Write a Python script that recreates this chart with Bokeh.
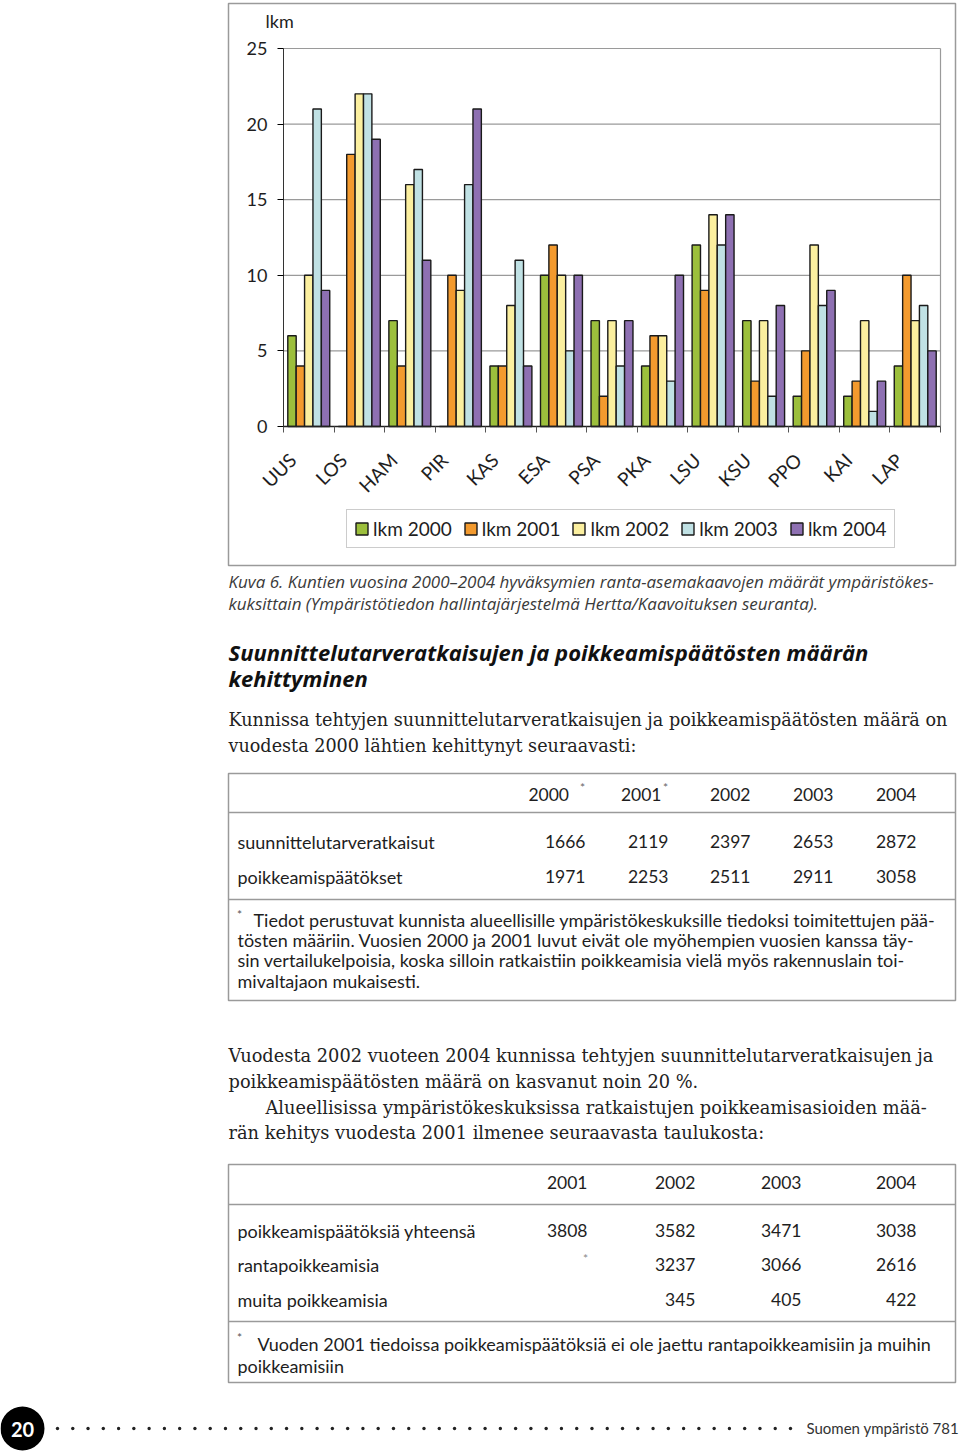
import numpy as np
from bokeh.plotting import figure
from bokeh.models import (ColumnDataSource, Range1d, FixedTicker, Legend, LegendItem,
                          LinearAxis)
from bokeh.transform import dodge
from bokeh.embed import file_html
from bokeh.resources import INLINE
from bokeh.core.properties import value

# ---------------- data ----------------
regions = ["UUS", "LOS", "HAM", "PIR", "KAS", "ESA", "PSA", "PKA", "LSU", "KSU", "PPO", "KAI", "LAP"]
lkm_2000 = [6, 0, 7, 0, 4, 10, 7, 4, 12, 7, 2, 2, 4]
lkm_2001 = [4, 18, 4, 10, 4, 12, 2, 6, 9, 3, 5, 3, 10]
lkm_2002 = [10, 22, 16, 9, 8, 10, 7, 6, 14, 7, 12, 7, 7]
lkm_2003 = [21, 22, 17, 16, 11, 5, 4, 3, 12, 2, 8, 1, 8]
lkm_2004 = [9, 19, 11, 21, 4, 10, 7, 10, 14, 8, 9, 3, 5]
series_names = ["lkm 2000", "lkm 2001", "lkm 2002", "lkm 2003", "lkm 2004"]
series_colors = ["#9cbf3c", "#f39a2e", "#fbef9f", "#c0e1e4", "#8e70b2"]
y_ticks = [0, 5, 10, 15, 20, 25]

t1_years = ["2000 ", "2001", "2002", "2003", "2004"]
t1_stars = ["*", "*"]
t1_rows = ["suunnittelutarveratkaisut", "poikkeamispäätökset"]
t1_suunnittelu = [1666, 2119, 2397, 2653, 2872]
t1_poikkeamis = [1971, 2253, 2511, 2911, 3058]

t2_years = ["2001", "2002", "2003", "2004"]
t2_rows = ["poikkeamispäätöksiä yhteensä", "rantapoikkeamisia", "muita poikkeamisia"]
t2_yhteensa = [3808, 3582, 3471, 3038]
t2_ranta = [None, 3237, 3066, 2616]
t2_muita = [None, 345, 405, 422]

SANS = "Lato"
SERIF = "DejaVu Serif"
INK = "#1e1e1e"
RULE = "#9a9a9a"

W, H = 960, 1454

# chart plot area in canvas pixels (top-left origin)
FL, FR, FT, FB = 283, 940, 48, 426
n = len(regions)
ux = (FR - FL) / n
cx_start = -0.5 - FL / ux
cx_end = n - 0.5 + (W - FR) / ux
uy = (FB - FT) / 25.0
cy_start = -(H - FB) / uy
cy_end = 25 + FT / uy

p = figure(width=W, height=H, x_range=Range1d(0, W), y_range=Range1d(H, 0),
           output_backend="svg", toolbar_location=None, min_border=0)
p.extra_x_ranges = {"cx": Range1d(cx_start, cx_end)}
p.extra_y_ranges = {"cy": Range1d(cy_start, cy_end)}
p.axis.visible = False
p.grid.visible = False
p.outline_line_color = None
p.background_fill_color = "white"
p.border_fill_color = "white"

# ---- chart ----
p.quad(left=228, right=955, top=3, bottom=565, fill_alpha=0,
       line_color=RULE, line_width=1.5)

p.segment(x0=-0.5, x1=n - 0.5, y0=y_ticks[1:], y1=y_ticks[1:], x_range_name="cx",
          y_range_name="cy", line_color=RULE, line_width=1.2)
p.segment(x0=[n - 0.5], x1=[n - 0.5], y0=[0], y1=[25], x_range_name="cx",
          y_range_name="cy", line_color=RULE, line_width=1.2)

src = ColumnDataSource(dict(xi=list(range(n)), a=lkm_2000, b=lkm_2001, c=lkm_2002,
                            d=lkm_2003, e=lkm_2004))
bw = 0.166
items = []
for i, (col, name, colr) in enumerate(zip(["a", "b", "c", "d", "e"], series_names, series_colors)):
    r = p.vbar(x=dodge("xi", (i - 2) * bw), top=col, width=bw, source=src,
               x_range_name="cx", y_range_name="cy",
               fill_color=colr, line_color="#1a1a1a", line_width=1.4)
    items.append(LegendItem(label=name, renderers=[r]))

yax = LinearAxis(x_range_name="cx", y_range_name="cy", fixed_location=-0.5,
                 ticker=FixedTicker(ticks=y_ticks), bounds=(0, 25))
yax.major_label_text_font = SANS
yax.major_label_text_font_size = "18px"
yax.major_label_text_color = INK
yax.axis_line_color = "#333"
yax.major_tick_out = 6
yax.major_tick_in = 0
yax.minor_tick_line_color = None
yax.major_label_standoff = 10
p.add_layout(yax, "left")

xtick = LinearAxis(x_range_name="cx", y_range_name="cy", fixed_location=0,
                   ticker=FixedTicker(ticks=[k - 0.5 for k in range(n + 1)]),
                   bounds=(-0.5, n - 0.5))
xtick.major_label_text_font_size = "0px"
xtick.major_label_text_alpha = 0
xtick.axis_line_color = "#222"
xtick.axis_line_width = 1.3
xtick.major_tick_out = 6
xtick.major_tick_in = 0
xtick.minor_tick_line_color = None
xtick.major_tick_line_color = "#555"
p.add_layout(xtick, "below")

lab_pos = [k - 0.32 for k in range(n)]
xax = LinearAxis(x_range_name="cx", y_range_name="cy", fixed_location=0,
                 ticker=FixedTicker(ticks=lab_pos), bounds=(-0.5, n - 0.5),
                 major_label_overrides={pos: r for pos, r in zip(lab_pos, regions)})
xax.major_label_orientation = np.pi / 4
xax.major_label_text_font = SANS
xax.major_label_text_font_size = "19px"
xax.major_label_text_color = INK
xax.axis_line_color = None
xax.major_tick_line_color = None
xax.minor_tick_line_color = None
xax.major_tick_out = 0
xax.major_label_standoff = 30
p.add_layout(xax, "below")

legend = Legend(items=items, orientation="horizontal", location=(346, H - 548))
legend.margin = 0
legend.label_text_font = SANS
legend.label_text_font_size = "19px"
legend.label_text_color = INK
legend.glyph_width = 15
legend.glyph_height = 15
legend.label_standoff = 4
legend.spacing = 11
legend.padding = 7
legend.border_line_color = RULE
legend.border_line_width = 1.3
legend.background_fill_color = "white"
p.add_layout(legend)


# ---- page text ----
def txt(xs, ys, texts, size, font=SANS, style="normal", color=INK, align="left",
        baseline="middle"):
    s = ColumnDataSource(dict(x=xs, y=ys, t=texts))
    p.text(x="x", y="y", text="t", source=s, text_font=value(font),
           text_font_size=f"{size}px", text_font_style=style, text_color=color,
           text_align=align, text_baseline=baseline)


def box(l, r, t, b):
    p.quad(left=l, right=r, top=t, bottom=b, fill_alpha=0, line_color=RULE, line_width=1.5)


def hline(l, r, y):
    p.segment(x0=l, x1=r, y0=y, y1=y, line_color=RULE, line_width=1.5)


txt([265], [20], ["lkm"], 18)

# caption
txt([228, 228], [581, 603],
    ["Kuva 6. Kuntien vuosina 2000–2004 hyväksymien ranta-asemakaavojen määrät ympäristökes-",
     "kuksittain (Ympäristötiedon hallintajärjestelmä Hertta/Kaavoituksen seuranta)."],
    17, font="Open Sans", style="italic", color="#3a3a3a")

# heading
txt([228, 228], [651, 677],
    ["Suunnittelutarveratkaisujen ja poikkeamispäätösten määrän", "kehittyminen"],
    22, font="Open Sans", style="bold italic", color="#111")

# body 1
txt([228, 228], [719, 745],
    ["Kunnissa tehtyjen suunnittelutarveratkaisujen ja poikkeamispäätösten määrä on",
     "vuodesta 2000 lähtien kehittynyt seuraavasti:"], 17.6, font=SERIF, color="#222")

# table 1
box(228, 955, 773, 1000)
hline(228, 955, 812)
hline(228, 955, 899)
t1_right = [585, 668, 750, 833, 916]
hdr_right = [573, 661, 750, 833, 916]
txt(hdr_right, [794] * 5, t1_years, 17.5, align="right")
txt([582, 665], [787, 787], t1_stars, 12, color="#666", align="center")
txt([237, 237], [841, 876], t1_rows, 18)
txt(t1_right, [841] * 5, [str(v) for v in t1_suunnittelu], 17.5, align="right")
txt(t1_right, [876] * 5, [str(v) for v in t1_poikkeamis], 17.5, align="right")
txt([239], [914], ["*"], 12, color="#555", align="center")
txt([253, 237, 237, 237], [919, 939, 959, 980],
    ["Tiedot perustuvat kunnista alueellisille ympäristökeskuksille tiedoksi toimitettujen pää-",
     "tösten määriin. Vuosien  2000 ja 2001 luvut eivät ole myöhempien vuosien kanssa täy-",
     "sin vertailukelpoisia, koska silloin  ratkaistiin poikkeamisia vielä myös rakennuslain toi-",
     "mivaltajaon mukaisesti."], 18)

# body 2
txt([228, 228, 265, 228], [1055, 1081, 1107, 1132],
    ["Vuodesta 2002 vuoteen 2004 kunnissa tehtyjen suunnittelutarveratkaisujen ja",
     "poikkeamispäätösten määrä on kasvanut noin 20 %.",
     "Alueellisissa ympäristökeskuksissa ratkaistujen poikkeamisasioiden mää-",
     "rän kehitys vuodesta 2001 ilmenee seuraavasta taulukosta:"], 17.8, font=SERIF,
    color="#222")

# table 2
box(228, 955, 1164, 1382)
hline(228, 955, 1204)
hline(228, 955, 1321)
t2_right = [587, 695, 801, 916]
txt(t2_right, [1182] * 4, t2_years, 17.5, align="right")
txt([237, 237, 237], [1230, 1264, 1299], t2_rows, 18)
txt(t2_right, [1230] * 4, [str(v) for v in t2_yhteensa], 17.5, align="right")
txt(t2_right[1:], [1264] * 3, [str(v) for v in t2_ranta[1:]], 17.5, align="right")
txt(t2_right[1:], [1299] * 3, [str(v) for v in t2_muita[1:]], 17.5, align="right")
txt([585], [1258], ["*"], 12, color="#888", align="center")
txt([239], [1337], ["*"], 12, color="#555", align="center")
txt([257, 237], [1343, 1365],
    ["Vuoden 2001 tiedoissa poikkeamispäätöksiä ei ole jaettu rantapoikkeamisiin ja muihin",
     "poikkeamisiin"], 18)

# footer
p.circle(x=[22], y=[1428], radius=22, fill_color="black", line_color=None)
txt([22], [1429], ["20"], 20, style="bold", color="white", align="center")
dots_x = np.linspace(57, 790, 49)
p.scatter(x=dots_x, y=[1428] * len(dots_x), size=3.4, fill_color="#222", line_color=None)
txt([806], [1427], ["Suomen ympäristö 781"], 15, color="#333")

open("out.html", "w").write(file_html(p, INLINE))
